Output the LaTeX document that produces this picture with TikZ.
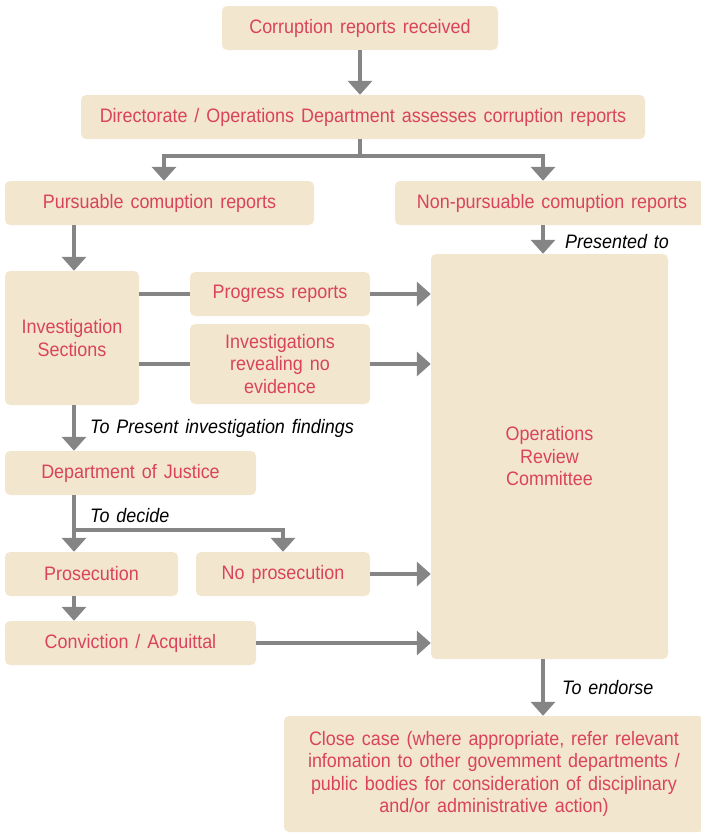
\documentclass[tikz,border=0pt]{standalone}
\usepackage{fontspec}
\setmainfont{Liberation Sans}[FakeStretch=0.92, WordSpace=1.4]
\usetikzlibrary{arrows.meta,positioning}
\definecolor{boxfill}{HTML}{F3E6CF}
\definecolor{boxtext}{HTML}{D9435B}
\definecolor{arrgray}{HTML}{858585}

\begin{document}
\begin{tikzpicture}[x=1pt, y=-1pt, font=\fontsize{19.5}{22.5}\selectfont]
\tikzstyle{blk}=[fill=boxfill, rounded corners=5pt, align=center, text=boxtext, inner sep=2pt, minimum height=44pt]
\tikzstyle{lnk}=[draw=arrgray, line width=4pt]
\tikzstyle{arr}=[lnk, -{Triangle[length=14pt,width=24pt]}]
\tikzstyle{lbl}=[font=\itshape\fontsize{19.5}{22.5}\selectfont, anchor=base west, inner sep=0pt]
\useasboundingbox (0,0) rectangle (701,833);
% boxes
\node[blk, minimum width=276pt] (recv) at (360,28) {Corruption reports received};
\node[blk, minimum width=564pt] (assess) at (363,117) {Directorate / Operations Department assesses corruption reports};
\node[blk, minimum width=309pt] (pursue) at (159.5,203) {Pursuable comuption reports};
\node[blk, minimum width=314pt] (nonp) at (552,203) {Non-pursuable comuption reports};
\node[blk, minimum width=134pt, minimum height=134pt] (invsec) at (72,338) {Investigation\\Sections};
\node[blk, minimum width=180pt] (progress) at (280,294) {Progress reports};
\node[blk, minimum width=180pt, minimum height=80pt] (noevid) at (280,364) {Investigations\\revealing no\\evidence};
\node[blk, minimum width=237pt, minimum height=405pt] (orc) at (549.5,456.5) {Operations\\Review\\Committee};
\node[blk, minimum width=251pt] (justice) at (130.5,473) {Department of Justice};
\node[blk, minimum width=173pt] (prosec) at (91.5,574) {Prosecution};
\node[blk, minimum width=174pt] (noprosec) at (283,574) {No prosecution};
\node[blk, minimum width=251pt] (convict) at (130.5,643) {Conviction / Acquittal};
\node[blk, minimum width=420pt, minimum height=116pt] (close) at (494,774) {Close case (where appropriate, refer relevant\\infomation to other govemment departments /\\public bodies for consideration of disciplinary\\and/or administrative action)};
% labels
\node[lbl] (presented) at (565,248) {Presented to};
\node[lbl] (findings) at (90,433) {To Present investigation findings};
\node[lbl] (decide) at (90,522) {To decide};
\node[lbl] (endorse) at (562,694) {To endorse};
% arrow columns
\coordinate (xl) at (74,0);
\coordinate (xm) at (360,0);
\coordinate (xp) at (164,0);
\coordinate (xn) at (543,0);
\coordinate (xj) at (283,0);
\coordinate (fork) at (74,530);
% connectors
\draw[arr] (recv.south -| xm) -- (assess.north -| xm);
\draw[lnk] (assess.south -| xm) -- ++(0,17) coordinate (split);
\draw[arr] (split) -| (pursue.north -| xp);
\draw[arr] (split) -| (nonp.north -| xn);
\draw[arr] (pursue.south -| xl) -- (invsec.north -| xl);
\draw[arr] (nonp.south -| xn) -- (orc.north -| xn);
\draw[lnk] (invsec.east |- progress) -- (progress.west);
\draw[arr] (progress.east) -- (orc.west |- progress);
\draw[lnk] (invsec.east |- noevid) -- (noevid.west);
\draw[arr] (noevid.east) -- (orc.west |- noevid);
\draw[arr] (invsec.south -| xl) -- (justice.north -| xl);
\draw[arr] (justice.south -| xl) -- (prosec.north -| xl);
\draw[arr] (fork) -| (noprosec.north -| xj);
\draw[arr] (noprosec.east) -- (orc.west |- noprosec);
\draw[arr] (prosec.south -| xl) -- (convict.north -| xl);
\draw[arr] (convict.east) -- (orc.west |- convict);
\draw[arr] (orc.south -| xn) -- (close.north -| xn);
\end{tikzpicture}
\end{document}
